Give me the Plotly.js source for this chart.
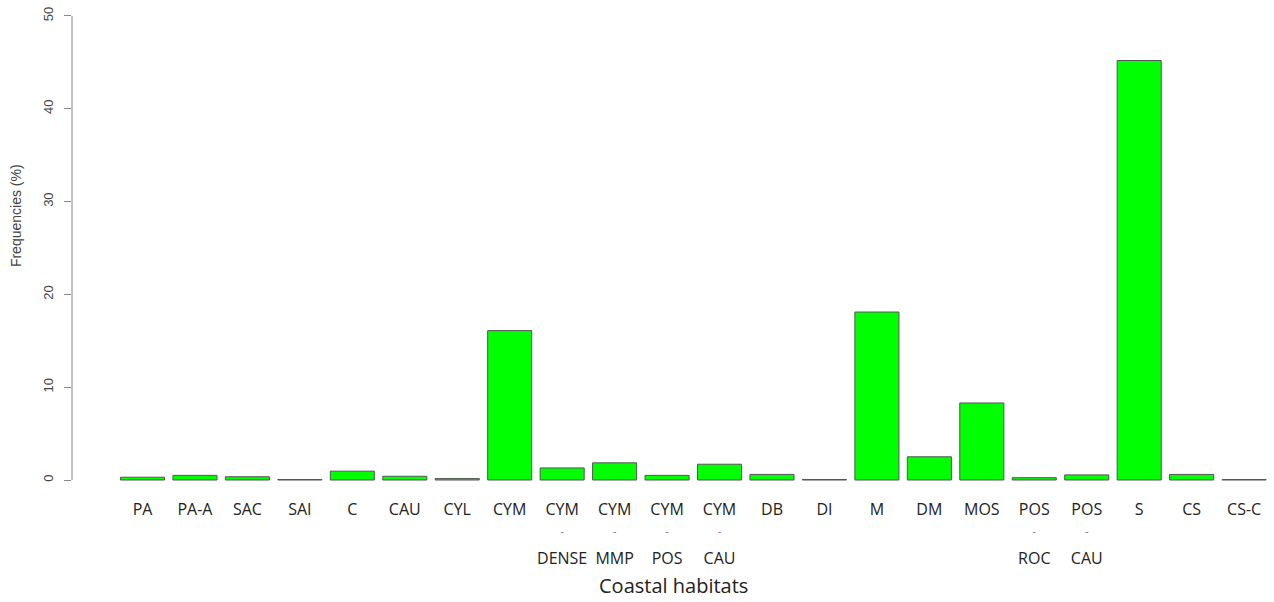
<!DOCTYPE html>
<html>
<head>
<meta charset="utf-8">
<script src="https://cdn.plot.ly/plotly-3.0.1.min.js"></script>
<style>
  html, body { margin: 0; padding: 0; background: #ffffff; }
  #chart { width: 1274px; height: 602px; }
</style>
</head>
<body>
<div id="chart"></div>
<script>
// ---- data ----
var categories = ["PA","PA-A","SAC","SAI","C","CAU","CYL","CYM","CYM-DENSE","CYM-MMP","CYM-POS","CYM-CAU","DB","DI","M","DM","MOS","POS-ROC","POS-CAU","S","CS","CS-C"];
var frequencies = [0.3, 0.5, 0.35, 0.05, 0.95, 0.4, 0.15, 16.1, 1.3, 1.85, 0.5, 1.7, 0.6, 0.05, 18.1, 2.5, 8.3, 0.25, 0.55, 45.2, 0.6, 0.05];
var labelTop = ["PA","PA-A","SAC","SAI","C","CAU","CYL","CYM","CYM","CYM","CYM","CYM","DB","DI","M","DM","MOS","POS","POS","S","CS","CS-C"];
var labelDash = ["","","","","","","","","-","-","-","-","","","","","","-","-","","",""];
var labelBottom = ["","","","","","","","","DENSE","MMP","POS","CAU","","","","","","ROC","CAU","","",""];
var yTicks = [0, 10, 20, 30, 40, 50];

var idx = categories.map(function (_, i) { return i; });
var xRange = [-1.344, 21.57];

var trace = {
  type: 'bar',
  x: categories,
  y: frequencies,
  width: 0.84,
  marker: { color: '#00FF00', line: { color: '#555555', width: 1 } },
  hoverinfo: 'x+y'
};

var baseX = {
  range: xRange,
  showgrid: false,
  zeroline: false,
  showline: false,
  ticks: '',
  tickangle: 0,
  automargin: false,
  fixedrange: true
};

var layout = {
  width: 1274,
  height: 602,
  margin: { l: 72, r: 0, t: 0, b: 112 },
  paper_bgcolor: '#ffffff',
  plot_bgcolor: '#ffffff',
  showlegend: false,
  bargap: 0,
  xaxis: Object.assign({}, baseX, {
    type: 'category',
    tickmode: 'array',
    tickvals: categories,
    ticktext: labelTop,
    tickfont: { family: 'Open Sans', size: 16, color: '#222222' },
    ticklabelstandoff: 8
  }),
  xaxis2: Object.assign({}, baseX, {
    type: 'linear',
    overlaying: 'x',
    anchor: 'y',
    side: 'bottom',
    tickmode: 'array',
    tickvals: idx,
    ticktext: labelDash,
    tickfont: { family: 'Open Sans', size: 11, color: '#777777' },
    ticklabelstandoff: 33
  }),
  xaxis3: Object.assign({}, baseX, {
    type: 'linear',
    overlaying: 'x',
    anchor: 'y',
    side: 'bottom',
    tickmode: 'array',
    tickvals: idx,
    ticktext: labelBottom,
    tickfont: { family: 'Open Sans', size: 16, color: '#222222' },
    ticklabelstandoff: 57
  }),
  yaxis: {
    range: [-1.078, 51.72],
    tickmode: 'array',
    tickvals: yTicks,
    ticktext: yTicks.map(String),
    tickangle: -90,
    ticks: 'outside',
    ticklen: 7,
    tickwidth: 1,
    tickcolor: '#888888',
    tickfont: { family: 'Liberation Sans', size: 13, color: '#444444' },
    ticklabelstandoff: 6,
    showgrid: false,
    zeroline: false,
    showline: false,
    automargin: false,
    fixedrange: true
  },
  shapes: [{
    type: 'line', xref: 'paper', yref: 'y',
    x0: 0, x1: 0, y0: yTicks[0], y1: yTicks[yTicks.length - 1],
    line: { color: '#888888', width: 1 }
  }],
  annotations: [
    {
      text: 'Frequencies (%)', xref: 'paper', yref: 'paper',
      x: -0.0466, y: 0.561, xanchor: 'center', yanchor: 'middle',
      textangle: -90, showarrow: false,
      font: { family: 'Liberation Sans', size: 14, color: '#444444' }
    },
    {
      text: 'Coastal habitats', xref: 'paper', yref: 'paper',
      x: 0.5, y: -0.194, xanchor: 'center', yanchor: 'middle',
      showarrow: false,
      font: { family: 'Open Sans', size: 20, color: '#222222' }
    }
  ]
};

var dummy2 = { type: 'scatter', x: [], y: [], xaxis: 'x2', yaxis: 'y', hoverinfo: 'skip', showlegend: false };
var dummy3 = { type: 'scatter', x: [], y: [], xaxis: 'x3', yaxis: 'y', hoverinfo: 'skip', showlegend: false };

Plotly.newPlot('chart', [trace, dummy2, dummy3], layout, { staticPlot: true, displayModeBar: false });
</script>
</body>
</html>
